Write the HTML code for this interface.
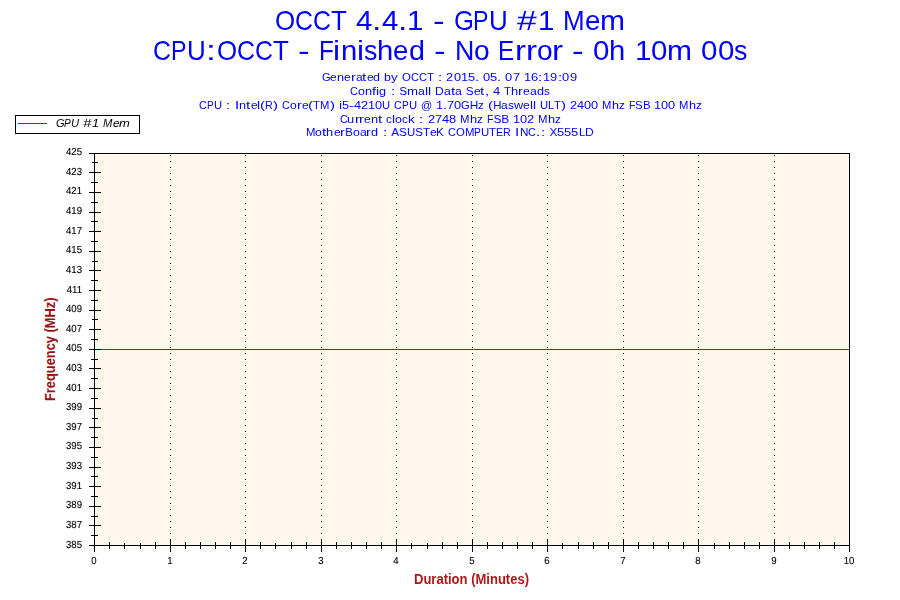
<!DOCTYPE html>
<html><head><meta charset="utf-8"><title>OCCT 4.4.1 - GPU #1 Mem</title>
<style>
html,body{margin:0;padding:0;background:#fff;}
body{width:900px;height:600px;position:relative;overflow:hidden;font-family:"Liberation Sans",sans-serif;}
.t{position:absolute;white-space:nowrap;line-height:1;transform-origin:0 0;margin:0;padding:0;}
.v i{position:absolute;top:0;font-style:inherit;transform-origin:0 0;white-space:pre;}
.l{position:absolute;background:#000;}
#plot{position:absolute;left:94px;top:153px;width:756px;height:393px;box-sizing:border-box;border:1px solid #000;background:#FFF9EB;}
.g{position:absolute;top:155px;width:1px;height:384px;background:repeating-linear-gradient(to bottom,#000 0,#000 1px,transparent 1px,transparent 6px);}
.yl{-webkit-text-stroke:.12px #000;filter:grayscale(1);position:absolute;white-space:nowrap;line-height:1;color:#000;text-align:right;width:40px;transform-origin:100% 0;transform:matrix(0.94,0.001,0,1,0,0);}
.xl{-webkit-text-stroke:.12px #000;filter:grayscale(1);position:absolute;white-space:nowrap;line-height:1;color:#000;text-align:center;width:40px;transform-origin:50% 0;transform:matrix(0.94,0.001,0,1,0,0);}
</style></head><body>
<div id="plot"></div>
<div class="g" style="left:170px"></div>
<div class="g" style="left:245px"></div>
<div class="g" style="left:321px"></div>
<div class="g" style="left:396px"></div>
<div class="g" style="left:472px"></div>
<div class="g" style="left:547px"></div>
<div class="g" style="left:623px"></div>
<div class="g" style="left:698px"></div>
<div class="g" style="left:774px"></div>
<div class="l" style="left:95px;top:349px;width:754px;height:1px;background:#A81A1A"></div>
<div class="l" style="left:89px;top:153px;width:12px;height:1px"></div>
<div class="l" style="left:92px;top:162px;width:6px;height:1px"></div>
<div class="l" style="left:89px;top:172px;width:12px;height:1px"></div>
<div class="l" style="left:91px;top:182px;width:7px;height:1px"></div>
<div class="l" style="left:89px;top:192px;width:12px;height:1px"></div>
<div class="l" style="left:91px;top:202px;width:7px;height:1px"></div>
<div class="l" style="left:89px;top:212px;width:12px;height:1px"></div>
<div class="l" style="left:91px;top:221px;width:7px;height:1px"></div>
<div class="l" style="left:89px;top:231px;width:12px;height:1px"></div>
<div class="l" style="left:91px;top:241px;width:7px;height:1px"></div>
<div class="l" style="left:89px;top:251px;width:12px;height:1px"></div>
<div class="l" style="left:92px;top:261px;width:6px;height:1px"></div>
<div class="l" style="left:89px;top:270px;width:12px;height:1px"></div>
<div class="l" style="left:91px;top:280px;width:7px;height:1px"></div>
<div class="l" style="left:89px;top:290px;width:12px;height:1px"></div>
<div class="l" style="left:91px;top:300px;width:7px;height:1px"></div>
<div class="l" style="left:89px;top:310px;width:12px;height:1px"></div>
<div class="l" style="left:92px;top:319px;width:6px;height:1px"></div>
<div class="l" style="left:89px;top:329px;width:12px;height:1px"></div>
<div class="l" style="left:91px;top:339px;width:7px;height:1px"></div>
<div class="l" style="left:89px;top:349px;width:12px;height:1px"></div>
<div class="l" style="left:91px;top:359px;width:7px;height:1px"></div>
<div class="l" style="left:89px;top:368px;width:12px;height:1px"></div>
<div class="l" style="left:91px;top:378px;width:7px;height:1px"></div>
<div class="l" style="left:89px;top:388px;width:12px;height:1px"></div>
<div class="l" style="left:91px;top:398px;width:7px;height:1px"></div>
<div class="l" style="left:89px;top:408px;width:12px;height:1px"></div>
<div class="l" style="left:92px;top:418px;width:6px;height:1px"></div>
<div class="l" style="left:89px;top:427px;width:12px;height:1px"></div>
<div class="l" style="left:91px;top:437px;width:7px;height:1px"></div>
<div class="l" style="left:89px;top:447px;width:12px;height:1px"></div>
<div class="l" style="left:91px;top:457px;width:7px;height:1px"></div>
<div class="l" style="left:89px;top:467px;width:12px;height:1px"></div>
<div class="l" style="left:91px;top:476px;width:7px;height:1px"></div>
<div class="l" style="left:89px;top:486px;width:12px;height:1px"></div>
<div class="l" style="left:91px;top:496px;width:7px;height:1px"></div>
<div class="l" style="left:89px;top:506px;width:12px;height:1px"></div>
<div class="l" style="left:91px;top:516px;width:7px;height:1px"></div>
<div class="l" style="left:89px;top:525px;width:12px;height:1px"></div>
<div class="l" style="left:91px;top:535px;width:7px;height:1px"></div>
<div class="l" style="left:89px;top:545px;width:12px;height:1px"></div>
<div class="l" style="left:94px;top:539px;width:1px;height:13px"></div>
<div class="l" style="left:109px;top:542px;width:1px;height:7px"></div>
<div class="l" style="left:124px;top:543px;width:1px;height:6px"></div>
<div class="l" style="left:140px;top:543px;width:1px;height:6px"></div>
<div class="l" style="left:155px;top:542px;width:1px;height:7px"></div>
<div class="l" style="left:170px;top:539px;width:1px;height:13px"></div>
<div class="l" style="left:185px;top:542px;width:1px;height:7px"></div>
<div class="l" style="left:200px;top:542px;width:1px;height:7px"></div>
<div class="l" style="left:215px;top:542px;width:1px;height:7px"></div>
<div class="l" style="left:230px;top:542px;width:1px;height:7px"></div>
<div class="l" style="left:245px;top:539px;width:1px;height:13px"></div>
<div class="l" style="left:260px;top:542px;width:1px;height:7px"></div>
<div class="l" style="left:275px;top:543px;width:1px;height:6px"></div>
<div class="l" style="left:291px;top:542px;width:1px;height:7px"></div>
<div class="l" style="left:306px;top:542px;width:1px;height:7px"></div>
<div class="l" style="left:321px;top:539px;width:1px;height:13px"></div>
<div class="l" style="left:336px;top:542px;width:1px;height:7px"></div>
<div class="l" style="left:351px;top:542px;width:1px;height:7px"></div>
<div class="l" style="left:366px;top:542px;width:1px;height:7px"></div>
<div class="l" style="left:381px;top:542px;width:1px;height:7px"></div>
<div class="l" style="left:396px;top:539px;width:1px;height:13px"></div>
<div class="l" style="left:411px;top:543px;width:1px;height:6px"></div>
<div class="l" style="left:427px;top:543px;width:1px;height:6px"></div>
<div class="l" style="left:442px;top:542px;width:1px;height:7px"></div>
<div class="l" style="left:457px;top:542px;width:1px;height:7px"></div>
<div class="l" style="left:472px;top:539px;width:1px;height:13px"></div>
<div class="l" style="left:487px;top:542px;width:1px;height:7px"></div>
<div class="l" style="left:502px;top:542px;width:1px;height:7px"></div>
<div class="l" style="left:517px;top:542px;width:1px;height:7px"></div>
<div class="l" style="left:532px;top:542px;width:1px;height:7px"></div>
<div class="l" style="left:547px;top:539px;width:1px;height:13px"></div>
<div class="l" style="left:562px;top:543px;width:1px;height:6px"></div>
<div class="l" style="left:578px;top:542px;width:1px;height:7px"></div>
<div class="l" style="left:593px;top:542px;width:1px;height:7px"></div>
<div class="l" style="left:608px;top:542px;width:1px;height:7px"></div>
<div class="l" style="left:623px;top:539px;width:1px;height:13px"></div>
<div class="l" style="left:638px;top:542px;width:1px;height:7px"></div>
<div class="l" style="left:653px;top:542px;width:1px;height:7px"></div>
<div class="l" style="left:668px;top:542px;width:1px;height:7px"></div>
<div class="l" style="left:683px;top:542px;width:1px;height:7px"></div>
<div class="l" style="left:698px;top:539px;width:1px;height:13px"></div>
<div class="l" style="left:714px;top:543px;width:1px;height:6px"></div>
<div class="l" style="left:729px;top:542px;width:1px;height:7px"></div>
<div class="l" style="left:744px;top:542px;width:1px;height:7px"></div>
<div class="l" style="left:759px;top:542px;width:1px;height:7px"></div>
<div class="l" style="left:774px;top:539px;width:1px;height:13px"></div>
<div class="l" style="left:789px;top:542px;width:1px;height:7px"></div>
<div class="l" style="left:804px;top:542px;width:1px;height:7px"></div>
<div class="l" style="left:819px;top:542px;width:1px;height:7px"></div>
<div class="l" style="left:834px;top:542px;width:1px;height:7px"></div>
<div class="l" style="left:849px;top:539px;width:1px;height:13px"></div>
<div class="yl" style="left:42.4px;top:147px;font-size:10.2px">425</div>
<div class="yl" style="left:42.4px;top:167px;font-size:10.2px">423</div>
<div class="yl" style="left:42.4px;top:186px;font-size:10.2px">421</div>
<div class="yl" style="left:42.4px;top:206px;font-size:10.2px">419</div>
<div class="yl" style="left:42.4px;top:226px;font-size:10.2px">417</div>
<div class="yl" style="left:42.4px;top:245px;font-size:10.2px">415</div>
<div class="yl" style="left:42.4px;top:265px;font-size:10.2px">413</div>
<div class="yl" style="left:42.4px;top:285px;font-size:10.2px">411</div>
<div class="yl" style="left:42.4px;top:304px;font-size:10.2px">409</div>
<div class="yl" style="left:42.4px;top:324px;font-size:10.2px">407</div>
<div class="yl" style="left:42.4px;top:343px;font-size:10.2px">405</div>
<div class="yl" style="left:42.4px;top:363px;font-size:10.2px">403</div>
<div class="yl" style="left:42.4px;top:383px;font-size:10.2px">401</div>
<div class="yl" style="left:42.4px;top:402px;font-size:10.2px">399</div>
<div class="yl" style="left:42.4px;top:422px;font-size:10.2px">397</div>
<div class="yl" style="left:42.4px;top:441px;font-size:10.2px">395</div>
<div class="yl" style="left:42.4px;top:461px;font-size:10.2px">393</div>
<div class="yl" style="left:42.4px;top:481px;font-size:10.2px">391</div>
<div class="yl" style="left:42.4px;top:500px;font-size:10.2px">389</div>
<div class="yl" style="left:42.4px;top:520px;font-size:10.2px">387</div>
<div class="yl" style="left:42.4px;top:540px;font-size:10.2px">385</div>
<div class="xl" style="left:73.5px;top:556px;font-size:10.2px">0</div>
<div class="xl" style="left:149.5px;top:556px;font-size:10.2px">1</div>
<div class="xl" style="left:224.5px;top:556px;font-size:10.2px">2</div>
<div class="xl" style="left:300.5px;top:556px;font-size:10.2px">3</div>
<div class="xl" style="left:375.5px;top:556px;font-size:10.2px">4</div>
<div class="xl" style="left:451.5px;top:556px;font-size:10.2px">5</div>
<div class="xl" style="left:526.5px;top:556px;font-size:10.2px">6</div>
<div class="xl" style="left:602.5px;top:556px;font-size:10.2px">7</div>
<div class="xl" style="left:677.5px;top:556px;font-size:10.2px">8</div>
<div class="xl" style="left:753.5px;top:556px;font-size:10.2px">9</div>
<div class="xl" style="left:828.5px;top:556px;font-size:10.2px">10</div>
<div style="position:absolute;left:15px;top:115px;width:125px;height:19px;box-sizing:border-box;border:1px solid #000;background:#fff"></div>
<div class="l" style="left:18px;top:123px;width:29px;height:1px;background:#A81A1A"></div>
<div class="t v" id="t1" style="left:275.1px;top:6.89px;font-size:27.3px;color:#0000FF;"><i style="left:0px;transform:scaleX(0.95)">O</i><i style="left:20.23px;transform:scaleX(0.91)">C</i><i style="left:38.16px;transform:scaleX(0.91)">C</i><i style="left:56.1px;transform:scaleX(0.95)">T</i> <i style="left:80.98px;transform:scaleX(1.08)">4</i><i style="left:97.33px;transform:scaleX(1.23)">.</i><i style="left:106.68px;transform:scaleX(1.08)">4</i><i style="left:123.03px;transform:scaleX(1.23)">.</i><i style="left:132.38px;transform:scaleX(1.08)">1</i> <i style="left:157.77px;transform:scaleX(1.28)">-</i> <i style="left:178.49px;transform:scaleX(0.94)">G</i><i style="left:198.4px;transform:scaleX(0.85)">P</i><i style="left:213.9px;transform:scaleX(0.95)">U</i> <i style="left:242.4px;transform:scaleX(1.3)">#</i><i style="left:262.78px;transform:scaleX(1.08)">1</i> <i style="left:288.17px;transform:scaleX(0.95)">M</i><i style="left:309.84px;transform:scaleX(1.01)">e</i><i style="left:325.16px;transform:scaleX(1.1)">m</i></div>
<div class="t v" id="t2" style="left:153.1px;top:36.89px;font-size:27.3px;color:#0000FF;"><i style="left:0px;transform:scaleX(0.91)">C</i><i style="left:17.94px;transform:scaleX(0.85)">P</i><i style="left:33.44px;transform:scaleX(0.95)">U</i><i style="left:53.15px;transform:scaleX(1.3)">:</i><i style="left:63.92px;transform:scaleX(0.95)">O</i><i style="left:84.14px;transform:scaleX(0.91)">C</i><i style="left:102.08px;transform:scaleX(0.91)">C</i><i style="left:120.02px;transform:scaleX(0.95)">T</i> <i style="left:144.9px;transform:scaleX(1.28)">-</i> <i style="left:165.61px;transform:scaleX(0.89)">F</i><i style="left:180.39px;transform:scaleX(1.16)">i</i><i style="left:187.43px;transform:scaleX(1.07)">n</i><i style="left:203.7px;transform:scaleX(1.16)">i</i><i style="left:210.74px;transform:scaleX(0.98)">s</i><i style="left:224.13px;transform:scaleX(1.07)">h</i><i style="left:240.4px;transform:scaleX(1.01)">e</i><i style="left:255.71px;transform:scaleX(1.05)">d</i> <i style="left:280.77px;transform:scaleX(1.28)">-</i> <i style="left:301.49px;transform:scaleX(0.98)">N</i><i style="left:320.71px;transform:scaleX(1.03)">o</i> <i style="left:345.36px;transform:scaleX(0.89)">E</i><i style="left:361.6px;transform:scaleX(1.21)">r</i><i style="left:372.57px;transform:scaleX(1.21)">r</i><i style="left:383.55px;transform:scaleX(1.03)">o</i><i style="left:399.15px;transform:scaleX(1.21)">r</i> <i style="left:419.17px;transform:scaleX(1.28)">-</i> <i style="left:439.88px;transform:scaleX(1.08)">0</i><i style="left:456.23px;transform:scaleX(1.07)">h</i> <i style="left:481.54px;transform:scaleX(1.08)">1</i><i style="left:497.89px;transform:scaleX(1.08)">0</i><i style="left:514.23px;transform:scaleX(1.1)">m</i> <i style="left:548.28px;transform:scaleX(1.08)">0</i><i style="left:564.63px;transform:scaleX(1.08)">0</i><i style="left:580.97px;transform:scaleX(0.98)">s</i></div>
<div class="t v" id="s1" style="left:321.6px;top:71.18px;font-size:11.6px;color:#0000FF;"><i style="left:0px;transform:scaleX(0.96)">G</i><i style="left:8.7px;transform:scaleX(1.04)">e</i><i style="left:15.4px;transform:scaleX(1.1)">n</i><i style="left:22.5px;transform:scaleX(1.04)">e</i><i style="left:29.2px;transform:scaleX(1.24)">r</i><i style="left:33.99px;transform:scaleX(1.05)">a</i><i style="left:40.86px;transform:scaleX(1.3)">t</i><i style="left:45.16px;transform:scaleX(1.04)">e</i><i style="left:51.86px;transform:scaleX(1.08)">d</i> <i style="left:62.8px;transform:scaleX(1.08)">b</i><i style="left:69.8px;transform:scaleX(1.15)">y</i> <i style="left:80.4px;transform:scaleX(0.98)">O</i><i style="left:89.24px;transform:scaleX(0.94)">C</i><i style="left:97.08px;transform:scaleX(0.94)">C</i><i style="left:104.91px;transform:scaleX(0.98)">T</i> <i style="left:116.24px;transform:scaleX(1.3)">:</i> <i style="left:124.84px;transform:scaleX(1.11)">2</i><i style="left:131.98px;transform:scaleX(1.11)">0</i><i style="left:139.12px;transform:scaleX(1.11)">1</i><i style="left:146.26px;transform:scaleX(1.11)">5</i><i style="left:153.4px;transform:scaleX(1.27)">.</i> <i style="left:161.44px;transform:scaleX(1.11)">0</i><i style="left:168.58px;transform:scaleX(1.11)">5</i><i style="left:175.73px;transform:scaleX(1.27)">.</i> <i style="left:183.77px;transform:scaleX(1.11)">0</i><i style="left:190.91px;transform:scaleX(1.11)">7</i> <i style="left:202px;transform:scaleX(1.11)">1</i><i style="left:209.14px;transform:scaleX(1.11)">6</i><i style="left:216.74px;transform:scaleX(1.3)">:</i><i style="left:221.38px;transform:scaleX(1.11)">1</i><i style="left:228.53px;transform:scaleX(1.11)">9</i><i style="left:236.12px;transform:scaleX(1.3)">:</i><i style="left:240.77px;transform:scaleX(1.11)">0</i><i style="left:247.91px;transform:scaleX(1.11)">9</i></div>
<div class="t v" id="s2" style="left:350px;top:85.18px;font-size:11.6px;color:#0000FF;"><i style="left:0px;transform:scaleX(0.94)">C</i><i style="left:7.91px;transform:scaleX(1.07)">o</i><i style="left:14.78px;transform:scaleX(1.11)">n</i><i style="left:21.96px;transform:scaleX(1.24)">f</i><i style="left:25.94px;transform:scaleX(1.2)">i</i><i style="left:29.05px;transform:scaleX(1.09)">g</i> <i style="left:40.57px;transform:scaleX(1.3)">:</i> <i style="left:49.23px;transform:scaleX(1)">S</i><i style="left:56.98px;transform:scaleX(1.14)">m</i><i style="left:68px;transform:scaleX(1.06)">a</i><i style="left:74.81px;transform:scaleX(1.2)">l</i><i style="left:77.91px;transform:scaleX(1.2)">l</i> <i style="left:85px;transform:scaleX(1.04)">D</i><i style="left:93.74px;transform:scaleX(1.06)">a</i><i style="left:100.69px;transform:scaleX(1.3)">t</i><i style="left:105.01px;transform:scaleX(1.06)">a</i> <i style="left:115.81px;transform:scaleX(1)">S</i><i style="left:123.56px;transform:scaleX(1.05)">e</i><i style="left:130.45px;transform:scaleX(1.3)">t</i><i style="left:134.77px;transform:scaleX(1.28)">,</i> <i style="left:142.89px;transform:scaleX(1.12)">4</i> <i style="left:154.08px;transform:scaleX(0.98)">T</i><i style="left:161.06px;transform:scaleX(1.11)">h</i><i style="left:168.23px;transform:scaleX(1.25)">r</i><i style="left:173.07px;transform:scaleX(1.05)">e</i><i style="left:179.82px;transform:scaleX(1.06)">a</i><i style="left:186.63px;transform:scaleX(1.09)">d</i><i style="left:193.69px;transform:scaleX(1.02)">s</i></div>
<div class="t v" id="s3" style="left:199px;top:99.18px;font-size:11.6px;color:#0000FF;"><i style="left:0px;transform:scaleX(0.93)">C</i><i style="left:7.78px;transform:scaleX(0.87)">P</i><i style="left:14.51px;transform:scaleX(0.97)">U</i> <i style="left:27.03px;transform:scaleX(1.3)">:</i> <i style="left:35.84px;transform:scaleX(1.3)">I</i><i style="left:40.28px;transform:scaleX(1.09)">n</i><i style="left:47.44px;transform:scaleX(1.3)">t</i><i style="left:51.73px;transform:scaleX(1.03)">e</i><i style="left:58.38px;transform:scaleX(1.19)">l</i><i style="left:61.45px;transform:scaleX(1.3)">(</i><i style="left:66.49px;transform:scaleX(0.93)">R</i><i style="left:74.27px;transform:scaleX(1.3)">)</i> <i style="left:83.23px;transform:scaleX(0.93)">C</i><i style="left:91.02px;transform:scaleX(1.05)">o</i><i style="left:97.78px;transform:scaleX(1.23)">r</i><i style="left:102.55px;transform:scaleX(1.03)">e</i><i style="left:109.21px;transform:scaleX(1.3)">(</i><i style="left:114.26px;transform:scaleX(0.97)">T</i><i style="left:121.12px;transform:scaleX(0.97)">M</i><i style="left:130.55px;transform:scaleX(1.3)">)</i> <i style="left:139.51px;transform:scaleX(1.19)">i</i><i style="left:142.57px;transform:scaleX(1.1)">5</i><i style="left:149.68px;transform:scaleX(1.3)">-</i><i style="left:154.72px;transform:scaleX(1.1)">4</i><i style="left:161.82px;transform:scaleX(1.1)">2</i><i style="left:168.91px;transform:scaleX(1.1)">1</i><i style="left:176px;transform:scaleX(1.1)">0</i><i style="left:183.09px;transform:scaleX(0.97)">U</i> <i style="left:195.18px;transform:scaleX(0.93)">C</i><i style="left:202.96px;transform:scaleX(0.87)">P</i><i style="left:209.69px;transform:scaleX(0.97)">U</i> <i style="left:221.78px;transform:scaleX(0.95)">@</i> <i style="left:236.85px;transform:scaleX(1.1)">1</i><i style="left:243.94px;transform:scaleX(1.26)">.</i><i style="left:248px;transform:scaleX(1.1)">7</i><i style="left:255.09px;transform:scaleX(1.1)">0</i><i style="left:262.19px;transform:scaleX(0.96)">G</i><i style="left:270.83px;transform:scaleX(1)">H</i><i style="left:279.2px;transform:scaleX(1.01)">z</i> <i style="left:289px;transform:scaleX(1.3)">(</i><i style="left:294.05px;transform:scaleX(1)">H</i><i style="left:302.42px;transform:scaleX(1.04)">a</i><i style="left:309.12px;transform:scaleX(1)">s</i><i style="left:314.93px;transform:scaleX(1.09)">w</i><i style="left:324.05px;transform:scaleX(1.03)">e</i><i style="left:330.7px;transform:scaleX(1.19)">l</i><i style="left:333.76px;transform:scaleX(1.19)">l</i> <i style="left:340.74px;transform:scaleX(0.97)">U</i><i style="left:348.9px;transform:scaleX(0.96)">L</i><i style="left:355.11px;transform:scaleX(0.97)">T</i><i style="left:362px;transform:scaleX(1.3)">)</i> <i style="left:370.97px;transform:scaleX(1.1)">2</i><i style="left:378.06px;transform:scaleX(1.1)">4</i><i style="left:385.15px;transform:scaleX(1.1)">0</i><i style="left:392.24px;transform:scaleX(1.1)">0</i> <i style="left:403.26px;transform:scaleX(0.97)">M</i><i style="left:412.66px;transform:scaleX(1.09)">h</i><i style="left:419.72px;transform:scaleX(1.01)">z</i> <i style="left:429.5px;transform:scaleX(0.9)">F</i><i style="left:435.91px;transform:scaleX(0.99)">S</i><i style="left:443.54px;transform:scaleX(0.99)">B</i> <i style="left:455.11px;transform:scaleX(1.1)">1</i><i style="left:462.21px;transform:scaleX(1.1)">0</i><i style="left:469.3px;transform:scaleX(1.1)">0</i> <i style="left:480.32px;transform:scaleX(0.97)">M</i><i style="left:489.72px;transform:scaleX(1.09)">h</i><i style="left:496.77px;transform:scaleX(1.01)">z</i></div>
<div class="t v" id="s4" style="left:339.6px;top:113.18px;font-size:11.6px;color:#0000FF;"><i style="left:0px;transform:scaleX(0.94)">C</i><i style="left:7.86px;transform:scaleX(1.11)">u</i><i style="left:15px;transform:scaleX(1.25)">r</i><i style="left:19.81px;transform:scaleX(1.25)">r</i><i style="left:24.62px;transform:scaleX(1.04)">e</i><i style="left:31.33px;transform:scaleX(1.11)">n</i><i style="left:38.59px;transform:scaleX(1.3)">t</i> <i style="left:46.87px;transform:scaleX(1.01)">c</i><i style="left:52.74px;transform:scaleX(1.2)">l</i><i style="left:55.83px;transform:scaleX(1.06)">o</i><i style="left:62.67px;transform:scaleX(1.01)">c</i><i style="left:68.54px;transform:scaleX(1.15)">k</i> <i style="left:79.63px;transform:scaleX(1.3)">:</i> <i style="left:88.25px;transform:scaleX(1.11)">2</i><i style="left:95.42px;transform:scaleX(1.11)">7</i><i style="left:102.58px;transform:scaleX(1.11)">4</i><i style="left:109.75px;transform:scaleX(1.11)">8</i> <i style="left:120.88px;transform:scaleX(0.98)">M</i><i style="left:130.38px;transform:scaleX(1.11)">h</i><i style="left:137.51px;transform:scaleX(1.02)">z</i> <i style="left:147.39px;transform:scaleX(0.91)">F</i><i style="left:153.87px;transform:scaleX(1)">S</i><i style="left:161.58px;transform:scaleX(1)">B</i> <i style="left:173.27px;transform:scaleX(1.11)">1</i><i style="left:180.44px;transform:scaleX(1.11)">0</i><i style="left:187.6px;transform:scaleX(1.11)">2</i> <i style="left:198.74px;transform:scaleX(0.98)">M</i><i style="left:208.23px;transform:scaleX(1.11)">h</i><i style="left:215.36px;transform:scaleX(1.02)">z</i></div>
<div class="t v" id="s5" style="left:305.6px;top:126.18px;font-size:11.6px;color:#0000FF;"><i style="left:0px;transform:scaleX(0.98)">M</i><i style="left:9.5px;transform:scaleX(1.06)">o</i><i style="left:16.46px;transform:scaleX(1.3)">t</i><i style="left:20.78px;transform:scaleX(1.11)">h</i><i style="left:27.91px;transform:scaleX(1.04)">e</i><i style="left:34.63px;transform:scaleX(1.25)">r</i><i style="left:39.44px;transform:scaleX(1)">B</i><i style="left:47.17px;transform:scaleX(1.06)">o</i><i style="left:54.01px;transform:scaleX(1.05)">a</i><i style="left:60.78px;transform:scaleX(1.25)">r</i><i style="left:65.59px;transform:scaleX(1.09)">d</i> <i style="left:77.04px;transform:scaleX(1.3)">:</i> <i style="left:85.66px;transform:scaleX(1)">A</i><i style="left:93.37px;transform:scaleX(1)">S</i><i style="left:101.08px;transform:scaleX(0.98)">U</i><i style="left:109.32px;transform:scaleX(1)">S</i><i style="left:117.03px;transform:scaleX(0.98)">T</i><i style="left:123.97px;transform:scaleX(1.04)">e</i><i style="left:130.69px;transform:scaleX(1.01)">K</i> <i style="left:142.46px;transform:scaleX(0.94)">C</i><i style="left:150.33px;transform:scaleX(0.98)">O</i><i style="left:159.2px;transform:scaleX(0.98)">M</i><i style="left:168.7px;transform:scaleX(0.88)">P</i><i style="left:175.49px;transform:scaleX(0.98)">U</i><i style="left:183.74px;transform:scaleX(0.98)">T</i><i style="left:190.68px;transform:scaleX(0.92)">E</i><i style="left:197.8px;transform:scaleX(0.93)">R</i> <i style="left:209.88px;transform:scaleX(1.3)">I</i><i style="left:214.34px;transform:scaleX(1.01)">N</i><i style="left:222.77px;transform:scaleX(0.94)">C</i><i style="left:230.64px;transform:scaleX(1.27)">.</i><i style="left:235.2px;transform:scaleX(1.3)">:</i> <i style="left:243.82px;transform:scaleX(1)">X</i><i style="left:251.54px;transform:scaleX(1.11)">5</i><i style="left:258.71px;transform:scaleX(1.11)">5</i><i style="left:265.87px;transform:scaleX(1.11)">5</i><i style="left:273.04px;transform:scaleX(0.97)">L</i><i style="left:279.32px;transform:scaleX(1.04)">D</i></div>
<div class="t v" id="lg" style="left:55.8px;top:117.18px;font-size:11.6px;color:#000;font-style:italic;"><i style="left:0px;transform:scaleX(0.95)">G</i><i style="left:8.6px;transform:scaleX(0.87)">P</i><i style="left:15.3px;transform:scaleX(0.97)">U</i> <i style="left:27.67px;transform:scaleX(1.3)">#</i><i style="left:36.41px;transform:scaleX(1.09)">1</i> <i style="left:47.37px;transform:scaleX(0.97)">M</i><i style="left:56.73px;transform:scaleX(1.03)">e</i><i style="left:63.35px;transform:scaleX(1.12)">m</i></div>
<div class="t" id="xt" style="left:414.2px;top:572.15px;font-size:14px;color:#B01818;transform:scaleX(0.93);font-weight:bold;">Duration (Minutes)</div>
<div class="t" id="yt" style="left:43.35px;top:401px;font-size:14px;color:#9C1010;transform:rotate(-90deg) scaleX(0.9168);font-weight:bold;">Frequency (MHz)</div>
</body></html>
